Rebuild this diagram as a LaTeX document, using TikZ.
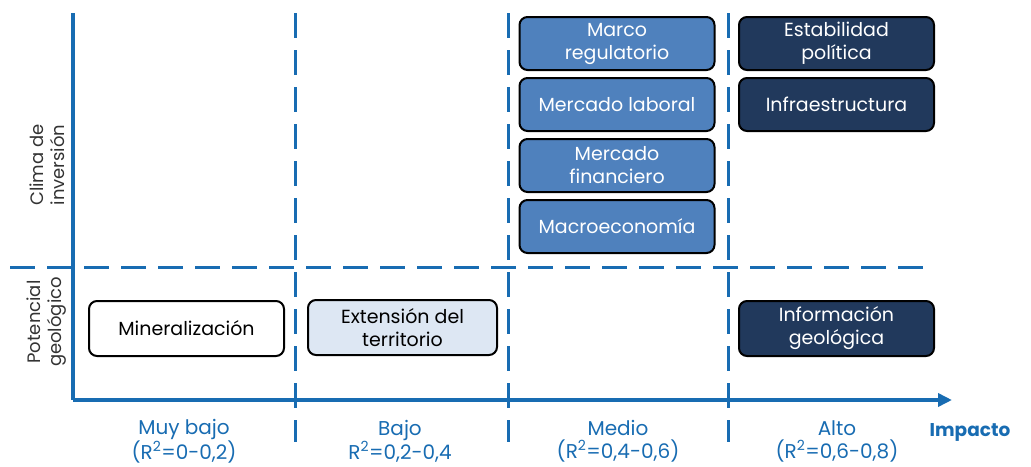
\documentclass[tikz,border=0pt]{standalone}
\usepackage{fontspec}
\setmainfont{Poppins}
\usetikzlibrary{arrows.meta,positioning}
\definecolor{axisblue}{RGB}{24,108,178}
\definecolor{midblue}{RGB}{79,129,189}
\definecolor{navyblue}{RGB}{33,57,92}
\definecolor{paleblue}{RGB}{221,231,243}
\tikzset{
  factor/.style={draw=black, line width=2pt, rounded corners=8pt, minimum width=195pt,
    minimum height=53pt, align=center, inner sep=2pt,
    font=\fontsize{19}{23}\selectfont},
  medio/.style={factor, fill=midblue, text=white},
  alto/.style={factor, fill=navyblue, text=white},
  divider/.style={axisblue, line width=3pt, dash pattern=on 25pt off 12pt},
  level/.style={align=center, text=axisblue, font=\fontsize{20}{23}\selectfont},
  dimlabel/.style={align=center, rotate=90, text=black!80, font=\fontsize{18}{21}\selectfont}
}
\begin{document}
\begin{tikzpicture}[x=1pt, y=-1pt, >=Stealth]
\useasboundingbox (0,0) rectangle (1031,466);

% Axes
\coordinate (origin) at (73,400);
\coordinate (ytop) at (73,13);
\coordinate (xend) at (952,400);
\draw[axisblue, line width=3.5pt] (ytop) -- (origin);
\draw[axisblue, line width=3.5pt, -{Triangle[length=14pt, width=13pt]}] (origin) -- (xend);

% Dividers
\draw[divider] (10,267) -- (933,267);
\foreach \xx in {295,508,728}
  \draw[divider] (\xx,13) -- (\xx,442);

% Medium impact
\node[medio] (marco) at (617,43.5) {Marco\\regulatorio};
\node[medio, below=6pt of marco] (laboral) {Mercado laboral};
\node[medio, below=6pt of laboral] (financiero) {Mercado\\financiero};
\node[medio, below=6pt of financiero] (macro) {Macroeconomía};

% High impact
\node[alto] (estabilidad) at (836.5,43.5) {Estabilidad\\política};
\node[alto, below=6pt of estabilidad] (infra) {Infraestructura};
\node[alto, minimum height=55pt] (info) at (836.5,328.5) {Información\\geológica};

% Geological potential
\node[factor, fill=white, minimum height=55pt] (mineral) at (186.5,328.5) {Mineralización};
\node[factor, fill=paleblue, minimum width=189pt, minimum height=55pt] (extension) at (402.5,327.5) {Extensión del\\territorio};

% Dimension labels
\node[dimlabel] (clima) at (47,165) {Clima de\\inversión};
\node[dimlabel] (potencial) at (47,322) {Potencial\\geológico};

% Impact levels
\node[level] (muybajo) at (184,441) {Muy bajo\\(R\textsuperscript{2}=0-0,2)};
\node[level] (bajo) at (400,441) {Bajo\\R\textsuperscript{2}=0,2-0,4};
\node[level] (medio) at (618,441) {Medio\\(R\textsuperscript{2}=0,4-0,6)};
\node[level] (alto) at (837,441) {Alto\\(R\textsuperscript{2}=0,6-0,8)};
\node[text=axisblue, font=\fontsize{18.5}{20}\selectfont\bfseries] (impacto) at (970,432) {Impacto};
\end{tikzpicture}
\end{document}
